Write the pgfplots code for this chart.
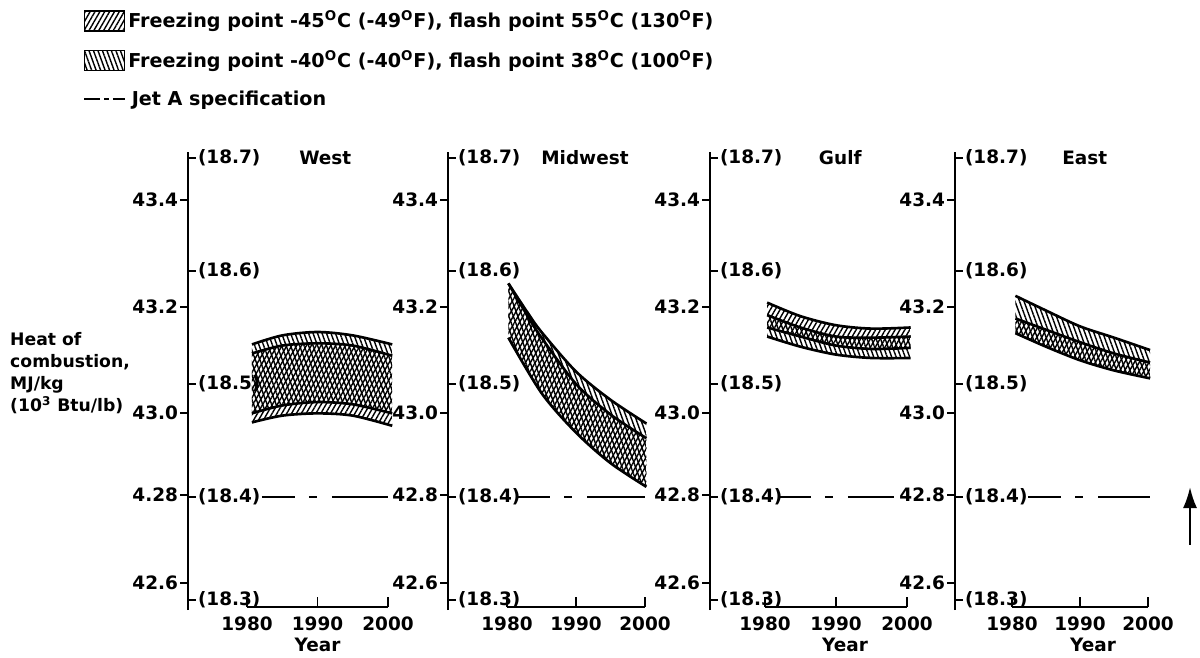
\documentclass[border=0pt]{standalone}
\usepackage{fontspec}
\setmainfont{DejaVu Sans}
\usepackage{pgfplots}
\pgfplotsset{compat=1.18}
\usepgfplotslibrary{fillbetween}
\usetikzlibrary{patterns.meta,arrows.meta}

\pgfplotsset{
  panel/.style={scale only axis, height=9.153cm, ymin=18.3, ymax=18.705,
    axis x line=none, axis y line=left, axis line style={line width=1.2pt,-},
    tick align=outside, major tick length=4.5pt, tick style={line width=1pt,black},
    ytick={18.3239,18.402,18.4746,18.5681,18.6628},
    yticklabel style={inner sep=1pt},
    clip=false, anchor=south west},
  btu/.style={scale only axis, width=0.01cm, height=9.153cm, xmin=0, xmax=1,
    ymin=18.3, ymax=18.705, axis x line=none, axis y line=right,
    axis line style={line width=1.2pt,-}, tick align=outside, major tick length=4.5pt,
    tick style={line width=1pt,black},
    ytick={18.309,18.4,18.5,18.6,18.7},
    yticklabels={(18.3),(18.4),(18.5),(18.6),(18.7)},
    yticklabel style={inner sep=1pt},
    anchor=south east},
  bracket/.style={scale only axis, height=0.5cm, xmin=1980, xmax=2000, ymin=0, ymax=1,
    axis y line=none, axis x line=bottom, axis line style={line width=1.2pt,-},
    tick align=inside, major tick length=5.5pt, tick style={line width=1pt,black},
    xtick={1980,1990,2000}, xticklabels={1980,1990,2000},
    xticklabel style={inner sep=2pt, yshift=-3.2pt},
    xlabel style={inner sep=0pt, yshift=-2pt},
    anchor=south west},
  b45/.style={pattern={Lines[angle=60,distance=2.4pt,line width=0.8pt]}, pattern color=black, draw=none},
  b40/.style={pattern={Lines[angle=110,distance=2.4pt,line width=0.8pt]}, pattern color=black, draw=none},
  edge/.style={black, line width=1.5pt, smooth, no markers},
  jet/.style={black, line width=1.1pt, no markers, dash pattern=on 18.8pt off 8pt on 4.5pt off 8.5pt on 60pt},
  boxlegend/.style={legend image code/.code={\draw[##1] (0cm,-0.2cm) rectangle (0.8cm,0.2cm);}},
  dashlegend/.style={legend image code/.code={\draw[##1] (0cm,0cm) -- (0.8cm,0cm);}},
}

\begin{document}
\begin{tikzpicture}[font=\bfseries\fontsize{10.5}{12.6}\selectfont]

% ---------------- West ----------------
\begin{axis}[panel, at={(3.76cm,0.94cm)}, xmin=1971.63, xmax=2002, width=4.282cm,
  yticklabels={42.6,4.28,43.0,43.2,43.4},
  legend style={at={(axis description cs:-0.4904,1.3155)}, anchor=north west,
    draw=none, fill=none, inner sep=0pt, row sep=8.5pt, cells={anchor=west},
    nodes={inner sep=1.5pt}, font=\bfseries\fontsize{10.9}{13}\selectfont}]
\addlegendimage{boxlegend, b45, draw=black, line width=1pt}
\addlegendentry{Freezing point -45\textsuperscript{O}C (-49\textsuperscript{O}F), flash point 55\textsuperscript{O}C (130\textsuperscript{O}F)}
\addlegendimage{boxlegend, b40, draw=black, line width=1pt}
\addlegendentry{Freezing point -40\textsuperscript{O}C (-40\textsuperscript{O}F), flash point 38\textsuperscript{O}C (100\textsuperscript{O}F)}
\addlegendimage{dashlegend, black, line width=1.3pt, dash pattern=on 9pt off 2.2pt on 2.8pt off 2.2pt on 9pt}
\addlegendentry{\hspace{2pt}Jet A specification}
\addplot[edge, name path=w1] coordinates {(1980.7,18.535)(1985,18.543)(1990,18.546)(1995,18.543)(2000.6,18.535)};
\addplot[edge, name path=w2] coordinates {(1980.7,18.527)(1985,18.534)(1990,18.536)(1995,18.534)(2000.6,18.525)};
\addplot[edge, name path=w3] coordinates {(1980.7,18.474)(1985,18.481)(1990,18.484)(1995,18.482)(2000.6,18.474)};
\addplot[edge, name path=w4] coordinates {(1980.7,18.466)(1985,18.472)(1990,18.474)(1995,18.472)(2000.6,18.463)};
\addplot[b40] fill between[of=w1 and w3];
\addplot[b45] fill between[of=w2 and w4];
\addplot[jet] coordinates {(1982.1,18.4)(2000,18.4)};
\node at (axis cs:1991.1,18.7) {West};
\end{axis}
\begin{axis}[btu, at={(3.76cm,0.94cm)}]
\end{axis}
\begin{axis}[bracket, at={(4.94cm,1.0cm)}, width=2.82cm, xlabel={Year}]
\end{axis}

% ---------------- Midwest ----------------
\begin{axis}[panel, at={(8.96cm,0.94cm)}, xmin=1971.45, xmax=2002, width=4.216cm,
  yticklabels={42.6,42.8,43.0,43.2,43.4}]
\addplot[edge, name path=m1] coordinates {(1980.2,18.589)(1983,18.563)(1985,18.546)(1990,18.511)(1995,18.486)(2000.2,18.465)};
\addplot[edge, name path=m2] coordinates {(1980.2,18.589)(1983,18.560)(1985,18.541)(1990,18.500)(1995,18.473)(2000.2,18.452)};
\addplot[edge, name path=m4] coordinates {(1980.2,18.541)(1985,18.492)(1990,18.457)(1995,18.430)(2000.2,18.409)};
\addplot[b40] fill between[of=m1 and m4];
\addplot[b45] fill between[of=m2 and m4];
\addplot[jet] coordinates {(1981.5,18.4)(2000,18.4)};
\node at (axis cs:1991.3,18.7) {Midwest};
\end{axis}
\begin{axis}[btu, at={(8.96cm,0.94cm)}]
\end{axis}
\begin{axis}[bracket, at={(10.14cm,1.0cm)}, width=2.76cm]
\end{axis}

% ---------------- Gulf ----------------
\begin{axis}[panel, at={(14.2cm,0.94cm)}, xmin=1972.25, xmax=2002, width=4.224cm,
  yticklabels={42.6,42.8,43.0,43.2,43.4}]
\addplot[edge, name path=g1] coordinates {(1980.3,18.572)(1985,18.560)(1990,18.552)(1995,18.549)(2000.5,18.550)};
\addplot[edge, name path=g2] coordinates {(1980.3,18.561)(1985,18.550)(1990,18.542)(1995,18.541)(2000.5,18.542)};
\addplot[edge, name path=g3] coordinates {(1980.3,18.550)(1985,18.542)(1990,18.534)(1995,18.531)(2000.5,18.532)};
\addplot[edge, name path=g4] coordinates {(1980.3,18.542)(1985,18.533)(1990,18.526)(1995,18.523)(2000.5,18.523)};
\addplot[b45] fill between[of=g1 and g3];
\addplot[b40] fill between[of=g2 and g4];
\addplot[jet] coordinates {(1981.8,18.4)(1998.2,18.4)};
\node at (axis cs:1990.6,18.7) {Gulf};
\end{axis}
\begin{axis}[btu, at={(14.2cm,0.94cm)}]
\end{axis}
\begin{axis}[bracket, at={(15.3cm,1.0cm)}, width=2.84cm, xlabel={Year}, xlabel style={xshift=0.18cm}]
\end{axis}

% ---------------- East ----------------
\begin{axis}[panel, at={(19.1cm,0.94cm)}, xmin=1971.62, xmax=2002, width=4.132cm,
  yticklabels={42.6,42.8,43.0,43.2,43.4}]
\addplot[edge, name path=e1] coordinates {(1980.5,18.578)(1985,18.565)(1990,18.551)(1995,18.541)(2000.3,18.530)};
\addplot[edge, name path=e2] coordinates {(1980.5,18.558)(1985,18.548)(1990,18.537)(1995,18.527)(2000.3,18.519)};
\addplot[edge, name path=e4] coordinates {(1980.5,18.545)(1985,18.533)(1990,18.521)(1995,18.512)(2000.3,18.505)};
\addplot[b40] fill between[of=e1 and e4];
\addplot[b45] fill between[of=e2 and e4];
\addplot[jet] coordinates {(1982.4,18.4)(2000.3,18.4)};
\node at (axis cs:1990.7,18.7) {East};
\end{axis}
\begin{axis}[btu, at={(19.1cm,0.94cm)}]
\end{axis}
\begin{axis}[bracket, at={(20.24cm,1.0cm)}, width=2.72cm, xlabel={Year}, xlabel style={xshift=0.26cm}]
\end{axis}

% y-axis title and stray arrow
\node[anchor=west, align=left, font=\bfseries\fontsize{9.8}{12.6}\selectfont] at (0.08cm,5.68cm)
  {Heat of\\combustion,\\MJ/kg\\(10\textsuperscript{3} Btu/lb)};
\draw[line width=1.3pt, -{Latex[length=12pt,width=8pt]}] (23.8cm,2.24cm) -- (23.8cm,3.4cm);

\pgfresetboundingbox
\path[use as bounding box] (0cm,0cm) rectangle (24cm,13.14cm);
\end{tikzpicture}
\end{document}
